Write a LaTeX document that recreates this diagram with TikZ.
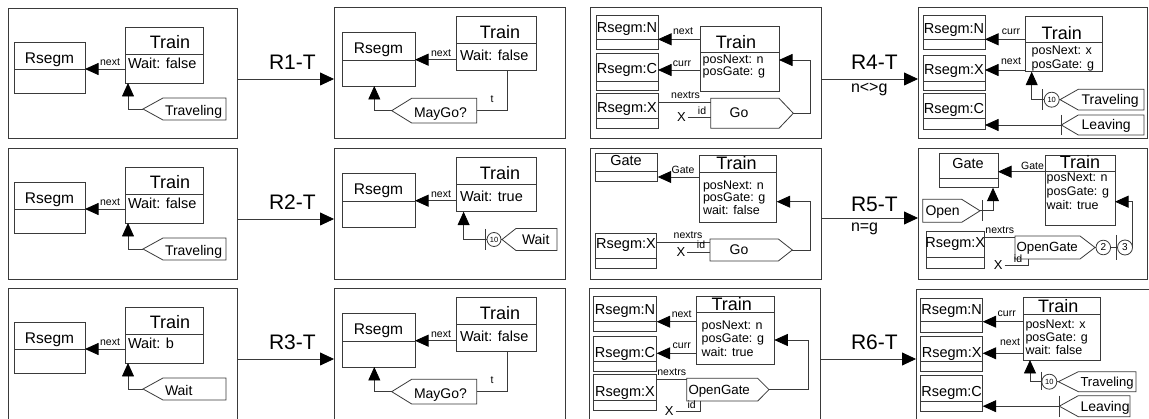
\documentclass[tikz,border=0pt]{standalone}
\usepackage{fontspec}
\setmainfont{Liberation Sans}
\usetikzlibrary{arrows.meta,calc}
\definecolor{lc}{HTML}{3A3A3A}
\tikzset{
 panel/.style={draw=lc, line width=0.9pt, inner sep=0pt, outer sep=0pt, anchor=north west},
 ubox/.style={draw=lc, line width=0.8pt, inner sep=0pt, outer sep=0pt, anchor=north west},
 pbox/.style={inner sep=0pt, outer sep=0pt, anchor=north west},
 ln/.style={draw=lc, line width=0.8pt},
 arr/.style={ln, -{Triangle[length=13.5pt,width=12pt,color=black]}},
 bigarr/.style={ln, -{Triangle[length=14pt,width=13pt,color=black]}},
 txt/.style={inner sep=0pt, outer sep=0pt, anchor=base},
 txw/.style={inner sep=0pt, outer sep=0pt, anchor=base west},
 fT/.style={font=\fontsize{18}{18}\selectfont},
 fRs/.style={font=\fontsize{15.5}{15.5}\selectfont},
 fRn/.style={font=\fontsize{14.5}{14.5}\selectfont},
 fAt/.style={font=\fontsize{14.5}{14.5}\selectfont},
 fPo/.style={font=\fontsize{12.5}{12.5}\selectfont},
 fL/.style={font=\fontsize{10.5}{10.5}\selectfont},
 fP/.style={font=\fontsize{14}{14}\selectfont},
 fP2/.style={font=\fontsize{13.3}{13.3}\selectfont},
 fR/.style={font=\fontsize{21}{21}\selectfont},
 fC/.style={font=\fontsize{16}{16}\selectfont},
 fX/.style={font=\fontsize{13}{13}\selectfont},
 fN/.style={font=\fontsize{7.5}{7.5}\selectfont},
 fN2/.style={font=\fontsize{10}{10}\selectfont},
 circ/.style={draw=lc, line width=0.8pt, circle, inner sep=0pt, outer sep=0pt},
}
% box with divider: name, x1, y1, x2, y2, ydiv
\newcommand\ubx[6]{\node[ubox, minimum width={(#4)-(#2)}, minimum height={(#5)-(#3)}] (#1) at (#2,#3) {};\draw[ln] (#2,#6) -- (#4,#6);}
% pennant pointing left: name, x1, y1, x2, y2, depth
\newcommand\penL[6]{\node[pbox, minimum width={(#4)-(#2)}, minimum height={(#5)-(#3)}] (#1) at (#2,#3) {};%
 \draw[ln] (#1.north west) -- (#1.north east) -- (#1.south east) -- (#1.south west) -- ([xshift=-#6pt]#1.west) -- cycle;%
 \coordinate (#1tip) at ([xshift=-#6pt]#1.west);}
% pentagon pointing right
\newcommand\penR[6]{\node[pbox, minimum width={(#4)-(#2)}, minimum height={(#5)-(#3)}] (#1) at (#2,#3) {};%
 \draw[ln] (#1.north west) -- (#1.north east) -- ([xshift=#6pt]#1.east) -- (#1.south east) -- (#1.south west) -- cycle;%
 \coordinate (#1tip) at ([xshift=#6pt]#1.east);}
% left-column source panel: suffix, y0, attr, pennant text, height
\newcommand\panA[5]{%
 \node[panel, minimum width=229, minimum height=#5] (pA#1) at (8,#2) {};
 \ubx{rsA#1}{14}{#2+34}{85}{#2+85}{#2+61}
 \node[txt,fRs] (rsAt#1) at (49.5,#2+56) {Rsegm};
 \ubx{trA#1}{125}{#2+19}{203}{#2+75}{#2+46}
 \node[txt,fT] (trAt#1) at (170,#2+40.3) {Train};
 \node[txw,fAt] (trAa#1) at (128,#2+61) {#3};
 \draw[arr] (trA#1.west |- 0,#2+61) -- (rsA#1.east |- 0,#2+61);
 \node[txt,fL] (nxA#1) at (110,#2+58) {next};
 \penL{pnA#1}{163}{#2+90}{226}{#2+112}{20}
 \node[txw,fP] (pnAt#1) at (165,#2+108) {#4};
 \draw[arr] (pnA#1tip) -| (trA#1.south -| 128,0);
}
% left-column target panel: suffix, y0, attr, height
\newcommand\panB[4]{%
 \node[panel, minimum width=231, minimum height=#4] (pB#1) at (334,#2) {};
 \ubx{rsB#1}{342}{#2+25}{415}{#2+79}{#2+53}
 \node[txt,fRs] (rsBt#1) at (378.5,#2+47) {Rsegm};
 \ubx{trB#1}{456}{#2+9.3}{536}{#2+63.7}{#2+36.3}
 \node[txt,fT] (trBt#1) at (500,#2+32) {Train};
 \node[txw,fAt] (trBa#1) at (460,#2+53.7) {#3};
 \draw[arr] (trB#1.west |- 0,#2+52.7) -- (rsB#1.east |- 0,#2+52.7);
 \node[txt,fL] (nxB#1) at (441,#2+49.3) {next};
}
\newcommand\mayGo[2]{%
 \penL{mgB#1}{411.7}{#2+91.3}{476.7}{#2+116}{20}
 \node[txw,fP] (mgBt#1) at (414,#2+111) {MayGo?};
 \draw[arr] (mgB#1tip) -| (rsB#1.south -| 374.3,0);
 \draw[ln] (mgB#1.east) -| (trB#1.south -| 507.7,0);
 \node[txt,fL] (tB#1) at (492,#2+96) {t};
}
\begin{document}
\begin{tikzpicture}[x=1pt,y=-1pt]
\fill[white] (0,0) rectangle (1149,419);
\useasboundingbox (0,0) rectangle (1149,419);

% ===== Left column =====
\panA{1}{8}{Wait: false}{Traveling}{130}
\panB{1}{7}{Wait: false}{131}
\mayGo{1}{7}
\draw[bigarr] (pA1.east |- 0,79) -- (pB1.west |- 0,79);
\node[txw,fR] (r1) at (269,70) {R1-T};

\panA{2}{148}{Wait: false}{Traveling}{131}
\panB{2}{148}{Wait: true}{131}
\draw[ln] (485.5,229) -- (485.5,250);
\coordinate (brB2) at (485.5,239.5);
\node[circ,minimum size=14,fN] (ciB2) at (494,239.5) {10};
\penL{wtB2}{516}{228.5}{557}{250.5}{14}
\node[txw,fP] (wtBt2) at (522,245) {Wait};
\draw[ln] (brB2) -- (ciB2.west);
\draw[ln] (ciB2.east) -- (wtB2tip);
\draw[arr] (brB2) -| (trB2.south -| 463.6,0);
\draw[bigarr] (pA2.east |- 0,219) -- (pB2.west |- 0,219);
\node[txw,fR] (r2) at (269,210) {R2-T};

\panA{3}{288}{Wait: b}{Wait}{134}
\panB{3}{288}{Wait: false}{134}
\mayGo{3}{288}
\draw[bigarr] (pA3.east |- 0,359) -- (pB3.west |- 0,359);
\node[txw,fR] (r3) at (269,350) {R3-T};

% ===== R4 =====
\node[panel, minimum width=231, minimum height=131] (pC1) at (590,7) {};
\ubx{rnC1}{596}{15}{658}{49.3}{39.3}
\node[txt,fRn] (rnCt1) at (627,33) {Rsegm:N};
\ubx{rcC1}{596}{53.3}{658}{90}{81}
\node[txt,fRn] (rcCt1) at (627,74) {Rsegm:C};
\ubx{rxC1}{596}{93.3}{658}{128.3}{118.3}
\node[txt,fRn] (rxCt1) at (627,113) {Rsegm:X};
\ubx{trC1}{700}{26.7}{779}{91}{52.3}
\node[txt,fT] (trCt1) at (736,48.3) {Train};
\node[txw,fPo] (trCa1) at (702.7,63.3) {posNext: n};
\node[txw,fPo] (trCb1) at (702.7,76) {posGate: g};
\draw[arr] (trC1.west |- 0,39.3) -- (rnC1.east |- 0,39.3);
\node[txt,fL] (nxC1) at (683,35) {next};
\draw[arr] (trC1.west |- 0,70) -- (rcC1.east |- 0,70);
\node[txt,fL] (cuC1) at (682,66.5) {curr};
\penR{goC1}{710.7}{98.3}{779}{128.3}{14.3}
\node[txt,fP] (goCt1) at (739,117.5) {Go};
\draw[ln] (rxC1.east |- 0,102.7) -- (goC1.west |- 0,102.7);
\node[txt,fL] (nrC1) at (685.5,99) {nextrs};
\node[txt,fX] (xC1) at (681.5,121.5) {X};
\draw[ln] ([xshift=2pt]xC1.east) -- (goC1.west |- xC1.east);
\node[txt,fL] (idC1) at (702,115) {id};
\draw[arr] (goC1tip) -| (810,60) -- (trC1.east |- 0,60);

\node[panel, minimum width=229, minimum height=131] (pD1) at (918,7) {};
\ubx{rnD1}{923.3}{15}{985}{49.3}{39.3}
\node[txt,fRn] (rnDt1) at (954,34) {Rsegm:N};
\ubx{rxD1}{923.3}{55}{985}{90}{81}
\node[txt,fRn] (rxDt1) at (954,75) {Rsegm:X};
\ubx{rcD1}{923.3}{93.3}{985}{129.3}{118.3}
\node[txt,fRn] (rcDt1) at (954,113.3) {Rsegm:C};
\ubx{trD1}{1025.7}{16.7}{1102.3}{71.7}{42.7}
\node[txt,fT] (trDt1) at (1061.7,40) {Train};
\node[txw,fPo] (trDa1) at (1031.7,55) {posNext: x};
\node[txw,fPo] (trDb1) at (1031.7,68.3) {posGate: g};
\draw[arr] (trD1.west |- 0,39.3) -- (rnD1.east |- 0,39.3);
\node[txt,fL] (cuD1) at (1011,35) {curr};
\draw[arr] (trD1.west |- 0,70) -- (rxD1.east |- 0,70);
\node[txt,fL] (nxD1) at (1011,65) {next};
\draw[ln] (1042.7,89.3) -- (1042.7,110);
\coordinate (brD1) at (1042.7,99.7);
\node[circ,minimum size=15,fN] (ciD1) at (1051.7,99.7) {10};
\penL{tvD1}{1078.3}{89.3}{1144}{110}{18.3}
\node[txw,fP] (tvDt1) at (1081.7,105) {Traveling};
\draw[ln] (brD1) -- (ciD1.west);
\draw[ln] (ciD1.east) -- (tvD1tip);
\draw[arr] (brD1) -| (trD1.south -| 1031.7,0);
\penL{lvD1}{1078.3}{115}{1144}{135}{17}
\node[txw,fP] (lvDt1) at (1081.7,130) {Leaving};
\draw[ln] (lvD1tip |- 0,115) -- (lvD1tip |- 0,135);
\draw[arr] (lvD1tip) -- (rcD1.east |- lvD1tip);

\draw[bigarr] (pC1.east |- 0,79) -- (pD1.west |- 0,79);
\node[txw,fR] (r4) at (851,70) {R4-T};
\node[txw,fC] (c4) at (851,93) {n<>g};

% ===== R5 =====
\node[panel, minimum width=231, minimum height=131] (pC2) at (590,148) {};
\ubx{gtC2}{595}{153.3}{657.7}{181}{171}
\node[txt,fRn] (gtCt2) at (626,166) {Gate};
\ubx{trC2}{699}{155.7}{776.7}{222.3}{172}
\node[txt,fT] (trCt2) at (736.5,170) {Train};
\node[txw,fPo] (trCa2) at (703,189.3) {posNext: n};
\node[txw,fPo] (trCb2) at (703,201.7) {posGate: g};
\node[txw,fPo] (trCc2) at (703,215) {wait: false};
\draw[arr] (trC2.west |- 0,177) -- (gtC2.east |- 0,177);
\node[txt,fL] (glC2) at (683,174) {Gate};
\ubx{rxC2}{595}{233.3}{656.7}{268.3}{258.3}
\node[txt,fRn] (rxCt2) at (626,248.3) {Rsegm:X};
\penR{goC2}{710}{239}{778.3}{261}{14}
\node[txt,fP] (goCt2) at (739,254.5) {Go};
\draw[ln] (rxC2.east |- 0,242.3) -- (goC2.west |- 0,242.3);
\node[txt,fL] (nrC2) at (688,238.5) {nextrs};
\node[txt,fX] (xC2) at (681,256.5) {X};
\draw[ln] ([xshift=2pt]xC2.east) -- (goC2.west |- xC2.east);
\node[txt,fL] (idC2) at (701,249) {id};
\draw[arr] (goC2tip) -| (810,201.7) -- (trC2.east |- 0,201.7);

\node[panel, minimum width=229, minimum height=131] (pD2) at (918,148) {};
\ubx{gtD2}{939.3}{153.3}{998}{187.7}{178.3}
\node[txt,fRn] (gtDt2) at (968,168.5) {Gate};
\ubx{trD2}{1045}{155}{1115}{225}{171.7}
\node[txt,fT] (trDt2) at (1080,168.5) {Train};
\node[txw,fPo] (trDa2) at (1046.7,182) {posNext: n};
\node[txw,fPo] (trDb2) at (1046.7,196) {posGate: g};
\node[txw,fPo] (trDc2) at (1046.7,210) {wait: true};
\draw[arr] (trD2.west |- 0,171.7) -- (gtD2.east |- 0,171.7);
\node[txt,fL] (glD2) at (1032.5,169.5) {Gate};
\penR{opD2}{922.7}{199.3}{961.7}{222.3}{18.3}
\node[txw,fP] (opDt2) at (925.5,216) {Open};
\draw[ln] (982.3,200.5) -- (982.3,221);
\coordinate (brD2) at (982.3,210.8);
\draw[ln] (opD2tip) -- (brD2);
\draw[arr] (brD2) -| (gtD2.south -| 993,0);
\ubx{rxD2}{926.7}{231.7}{984}{268.3}{257.7}
\node[txt,fRn] (rxDt2) at (955.3,248) {Rsegm:X};
\penR{ogD2}{1015}{236}{1080}{259}{15}
\node[txw,fP2] (ogDt2) at (1016.5,252) {OpenGate};
\draw[ln] (rxD2.east |- 0,237) -- (ogD2.west |- 0,237);
\node[txt,fL] (nrD2) at (999.7,234) {nextrs};
\node[circ,minimum size=14.6,fN2] (c2D2) at (1103.3,247.5) {2};
\draw[ln] (1116,235) -- (1116,260);
\node[circ,minimum size=15,fN2] (c3D2) at (1125,247.5) {3};
\draw[ln] (ogD2tip) -- (c2D2.west);
\draw[ln] (c2D2.east) -- (c3D2.west);
\draw[arr] (c3D2.east) |- (trD2.east |- 0,201.7);
\node[txt,fX] (xD2) at (998.3,269.5) {X};
\draw[ln] ([xshift=2pt]xD2.east) -| (ogD2.south -| 1028.3,0);
\node[txt,fL] (idD2) at (1018,262.5) {id};

\draw[bigarr] (pC2.east |- 0,218) -- (pD2.west |- 0,218);
\node[txw,fR] (r5) at (851,211.5) {R5-T};
\node[txw,fC] (c5) at (851,232) {n=g};

% ===== R6 =====
\node[panel, minimum width=231, minimum height=134] (pC3) at (589,288) {};
\ubx{rnC3}{593.3}{296.7}{656.7}{331.7}{321.7}
\node[txt,fRn] (rnCt3) at (625,314.3) {Rsegm:N};
\ubx{rcC3}{593.3}{336.7}{656.7}{371.7}{361}
\node[txt,fRn] (rcCt3) at (625,357.5) {Rsegm:C};
\ubx{rxC3}{593.3}{374.3}{656.7}{410}{400}
\node[txt,fRn] (rxCt3) at (625,396.5) {Rsegm:X};
\ubx{trC3}{696.7}{296.7}{774.3}{364.3}{312.3}
\node[txt,fT] (trCt3) at (731.7,311) {Train};
\node[txw,fPo] (trCa3) at (701.7,329.5) {posNext: n};
\node[txw,fPo] (trCb3) at (701.7,343) {posGate: g};
\node[txw,fPo] (trCc3) at (701.7,356.5) {wait: true};
\draw[arr] (trC3.west |- 0,321.7) -- (rnC3.east |- 0,321.7);
\node[txt,fL] (nxC3) at (681.7,317.5) {next};
\draw[arr] (trC3.west |- 0,353.3) -- (rcC3.east |- 0,353.3);
\node[txt,fL] (cuC3) at (681.7,349) {curr};
\penR{ogC3}{686.7}{378.3}{757.7}{401}{11.3}
\node[txw,fP2] (ogCt3) at (688.5,395) {OpenGate};
\draw[ln] (rxC3.east |- 0,379.5) -- (ogC3.west |- 0,379.5);
\node[txt,fL] (nrC3) at (671.7,375.5) {nextrs};
\draw[arr] (ogC3tip) -| (808.3,340) -- (trC3.east |- 0,340);
\node[txt,fX] (xC3) at (669.3,415.5) {X};
\draw[ln] ([xshift=2pt]xC3.east) -| (ogC3.south -| 700,0);
\node[txt,fL] (idC3) at (691.7,408.5) {id};

\node[panel, minimum width=234, minimum height=133] (pD3) at (916,289) {};
\ubx{rnD3}{920.7}{298.3}{982.7}{332.3}{321.7}
\node[txt,fRn] (rnDt3) at (951.7,314.5) {Rsegm:N};
\ubx{rxD3}{920.7}{336.7}{982.7}{371.7}{361}
\node[txt,fRn] (rxDt3) at (951.7,357.5) {Rsegm:X};
\ubx{rcD3}{920.7}{375.7}{982.7}{411.7}{401}
\node[txt,fRn] (rcDt3) at (951.7,396.5) {Rsegm:C};
\ubx{trD3}{1023.3}{297.7}{1100.7}{360}{314.3}
\node[txt,fT] (trDt3) at (1058.3,313) {Train};
\node[txw,fPo] (trDa3) at (1025.5,328.3) {posNext: x};
\node[txw,fPo] (trDb3) at (1025.5,341.7) {posGate: g};
\node[txw,fPo] (trDc3) at (1025.5,355) {wait: false};
\draw[arr] (trD3.west |- 0,321.7) -- (rnD3.east |- 0,321.7);
\node[txt,fL] (cuD3) at (1006.7,316.7) {curr};
\draw[arr] (trD3.west |- 0,353.3) -- (rxD3.east |- 0,353.3);
\node[txt,fL] (nxD3) at (1010,346) {next};
\draw[ln] (1041,371.7) -- (1041,390);
\coordinate (brD3) at (1041,381.7);
\node[circ,minimum size=15,fN] (ciD3) at (1049.3,381.7) {10};
\penL{tvD3}{1078.3}{371.7}{1136}{391.7}{20}
\node[txw,fX] (tvDt3) at (1080.5,387) {Traveling};
\draw[ln] (brD3) -- (ciD3.west);
\draw[ln] (ciD3.east) -- (tvD3tip);
\draw[arr] (brD3) -| (trD3.south -| 1030,0);
\penL{lvD3}{1078.3}{395.7}{1130}{416.7}{19}
\node[txw,fP] (lvDt3) at (1080.5,412) {Leaving};
\draw[ln] (lvD3tip |- 0,395.7) -- (lvD3tip |- 0,416.7);
\draw[arr] (lvD3tip) -- (rcD3.east |- lvD3tip);

\draw[bigarr] (pC3.east |- 0,359) -- (pD3.west |- 0,359);
\node[txw,fR] (r6) at (851,350) {R6-T};
\end{tikzpicture}
\end{document}
